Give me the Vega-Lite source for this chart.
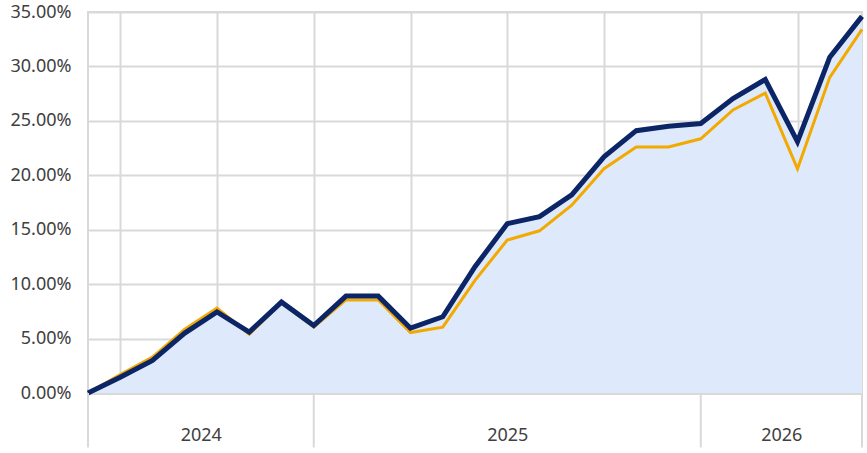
{
  "$schema": "https://vega.github.io/schema/vega-lite/v6.json",
  "autosize": {"type": "none"},
  "padding": {"left": 88, "top": 12, "right": 5, "bottom": 60},
  "width": 774,
  "height": 381,
  "background": "white",
  "config": {
    "view": {"stroke": "#d9d9d9", "strokeWidth": 2},
    "axis": {"labelFont": "Noto Sans", "labelFontSize": 18, "labelColor": "#404040"}
  },
  "datasets": {
    "series": [
      {"month": "2024-06", "fund": 0.0, "benchmark": 0.0},
      {"month": "2024-07", "fund": 0.0145, "benchmark": 0.017},
      {"month": "2024-08", "fund": 0.030, "benchmark": 0.033},
      {"month": "2024-09", "fund": 0.055, "benchmark": 0.0585},
      {"month": "2024-10", "fund": 0.0745, "benchmark": 0.078},
      {"month": "2024-11", "fund": 0.056, "benchmark": 0.054},
      {"month": "2024-12", "fund": 0.0835, "benchmark": 0.083},
      {"month": "2025-01", "fund": 0.062, "benchmark": 0.0605},
      {"month": "2025-02", "fund": 0.089, "benchmark": 0.0855},
      {"month": "2025-03", "fund": 0.089, "benchmark": 0.0855},
      {"month": "2025-04", "fund": 0.0595, "benchmark": 0.0555},
      {"month": "2025-05", "fund": 0.070, "benchmark": 0.0605},
      {"month": "2025-06", "fund": 0.116, "benchmark": 0.1035},
      {"month": "2025-07", "fund": 0.1555, "benchmark": 0.1405},
      {"month": "2025-08", "fund": 0.162, "benchmark": 0.149},
      {"month": "2025-09", "fund": 0.182, "benchmark": 0.1725},
      {"month": "2025-10", "fund": 0.217, "benchmark": 0.206},
      {"month": "2025-11", "fund": 0.241, "benchmark": 0.226},
      {"month": "2025-12", "fund": 0.245, "benchmark": 0.226},
      {"month": "2026-01", "fund": 0.2475, "benchmark": 0.2335},
      {"month": "2026-02", "fund": 0.2705, "benchmark": 0.260},
      {"month": "2026-03", "fund": 0.288, "benchmark": 0.2755},
      {"month": "2026-04", "fund": 0.231, "benchmark": 0.206},
      {"month": "2026-05", "fund": 0.3085, "benchmark": 0.290},
      {"month": "2026-06", "fund": 0.346, "benchmark": 0.334}
    ],
    "yearBounds": [
      {"month": "2024-06"},
      {"month": "2025-01"},
      {"month": "2026-01"},
      {"month": "2026-06"}
    ]
  },
  "resolve": {"axis": {"x": "independent"}},
  "layer": [
    {
      "data": {"name": "series"},
      "mark": {"type": "area", "color": "#deeafb"},
      "encoding": {
        "x": {
          "field": "month", "type": "ordinal",
          "scale": {"type": "point", "padding": 0},
          "axis": {
            "orient": "bottom",
            "values": ["2024-07", "2024-10", "2025-01", "2025-04", "2025-07", "2025-10", "2026-01", "2026-04"],
            "labels": false, "ticks": false, "title": null,
            "grid": true, "gridColor": "#d9d9d9", "gridWidth": 2,
            "domain": true, "domainColor": "#d9d9d9", "domainWidth": 3
          }
        },
        "y": {
          "field": "fund", "type": "quantitative",
          "scale": {"domain": [0, 0.35], "nice": false, "zero": false},
          "axis": {
            "values": [0, 0.05, 0.1, 0.15, 0.2, 0.25, 0.3, 0.35],
            "format": ".2%", "title": null, "ticks": false, "domain": false,
            "labelPadding": 17, "grid": true, "gridColor": "#d9d9d9", "gridWidth": 2
          }
        }
      }
    },
    {
      "data": {"name": "series"},
      "mark": {"type": "line", "color": "#f2a900", "strokeWidth": 3},
      "encoding": {
        "x": {"field": "month", "type": "ordinal", "axis": null},
        "y": {"field": "benchmark", "type": "quantitative"}
      }
    },
    {
      "data": {"name": "series"},
      "mark": {"type": "line", "color": "#0b2566", "strokeWidth": 5},
      "encoding": {
        "x": {"field": "month", "type": "ordinal", "axis": null},
        "y": {"field": "fund", "type": "quantitative"}
      }
    },
    {
      "data": {"name": "yearBounds"},
      "mark": {"type": "rule", "color": "#d9d9d9", "strokeWidth": 2},
      "encoding": {
        "x": {
          "field": "month", "type": "ordinal",
          "axis": {
            "orient": "bottom",
            "values": ["2024-09", "2025-07", "2026-03"],
            "labelExpr": "slice(datum.value, 0, 4)",
            "labelOffset": {"condition": {"test": "datum.value == '2025-07'", "value": 0}, "value": 16},
            "labelAngle": 0,
            "labelPadding": 33,
            "labels": true, "ticks": false, "domain": false, "grid": false, "title": null
          }
        },
        "y": {"datum": 0},
        "y2": {"datum": -0.05}
      }
    }
  ]
}
